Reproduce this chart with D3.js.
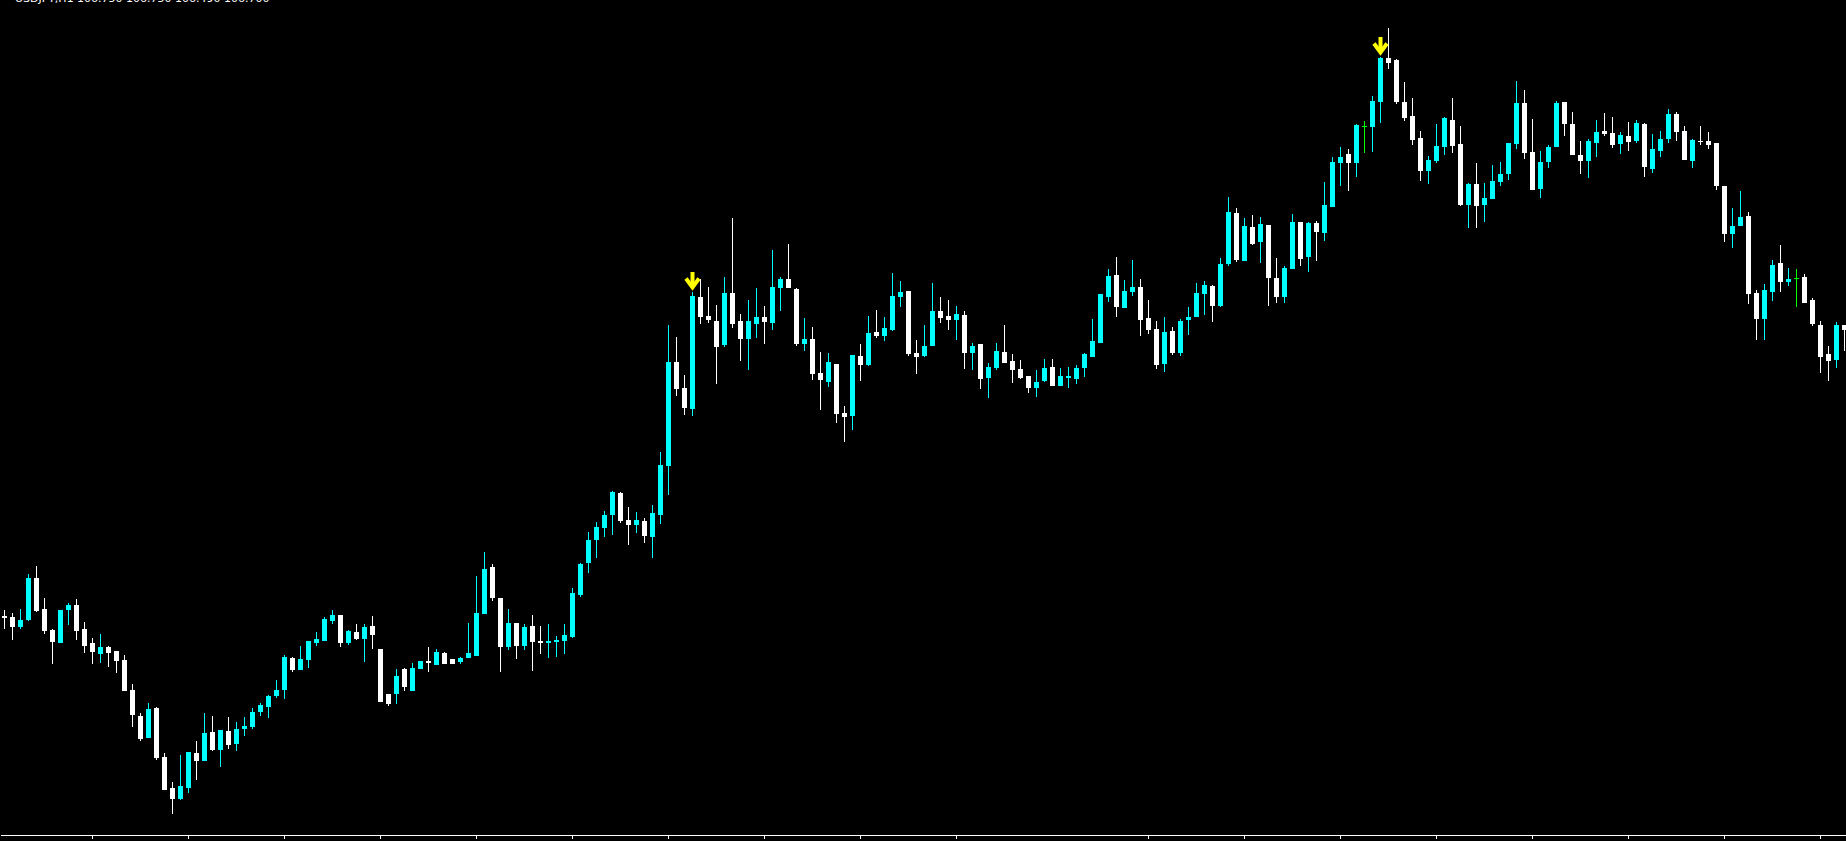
<!DOCTYPE html>
<html>
<head>
<meta charset="utf-8">
<script src="https://cdn.jsdelivr.net/npm/d3@7"></script>
<style>
  html, body { margin: 0; padding: 0; background: #000; overflow: hidden; }
  svg { display: block; }
</style>
</head>
<body>
<div id="chart"></div>
<script>
(function(d3) {
  'use strict';

  var width = 1846;
  var height = 841;

  // H1 bars, oldest first
  var open = [
    103.84,103.83,103.73,103.80,104.22,103.91,103.70,103.57,103.90,103.95,
    103.71,103.57,103.46,103.53,103.49,103.40,103.10,102.84,102.62,102.92,
    102.43,102.12,102.01,102.12,102.47,102.39,102.68,102.50,102.69,102.56,
    102.71,102.73,102.88,102.93,103.04,103.10,103.42,103.30,103.40,103.57,
    103.59,103.79,103.85,103.57,103.68,103.61,103.74,103.51,103.06,103.06,
    103.31,103.09,103.31,103.39,103.35,103.47,103.41,103.38,103.42,103.44,
    103.86,104.33,104.02,103.53,103.77,103.54,103.74,103.59,103.57,103.58,
    103.59,103.63,104.05,104.37,104.60,104.72,104.85,105.07,104.80,104.75,
    104.79,104.63,104.85,105.34,106.38,106.12,105.91,107.03,106.84,106.79,
    106.55,107.07,106.79,106.61,106.76,106.83,106.77,107.12,107.21,107.11,
    106.56,106.61,106.27,106.18,106.36,105.87,105.84,106.44,106.35,106.68,
    106.64,106.70,107.03,107.09,106.47,106.44,106.54,106.89,106.84,106.80,
    106.85,106.47,106.56,106.22,106.32,106.48,106.39,106.31,106.24,106.12,
    106.19,106.33,106.14,106.22,106.21,106.32,106.43,106.57,107.03,107.25,
    106.92,107.08,107.13,106.82,106.71,106.36,106.69,106.47,106.80,106.83,
    107.06,107.14,106.94,107.36,107.87,107.39,107.73,107.58,107.75,107.22,
    107.03,107.31,107.78,107.43,107.77,107.67,107.93,108.37,108.46,108.37,
    108.74,108.73,108.98,109.42,109.40,108.98,108.84,108.62,108.29,108.39,
    108.53,108.80,108.56,107.95,108.16,107.95,108.01,108.18,108.26,108.56,
    108.97,108.48,108.11,108.38,108.53,108.98,108.76,108.45,108.39,108.57,
    108.69,108.67,108.56,108.64,108.59,108.76,108.31,108.49,108.61,108.86,
    108.69,108.39,108.59,108.59,108.57,108.14,107.66,107.74,107.84,107.07,
    106.81,107.08,107.37,107.18,107.22,107.23,107.00,106.75,106.46,106.40,
    106.75
  ];
  var high = [
    103.90,103.87,103.91,104.26,104.34,104.02,103.71,103.90,103.97,104.01,
    103.78,103.62,103.66,103.54,103.49,103.45,103.16,102.87,102.97,102.93,
    102.47,102.18,102.45,102.48,102.59,102.87,102.84,102.70,102.83,102.78,
    102.83,102.92,102.97,103.05,103.20,103.45,103.43,103.54,103.59,103.68,
    103.83,103.90,103.85,103.70,103.76,103.76,103.84,103.51,103.06,103.31,
    103.32,103.37,103.39,103.53,103.51,103.48,103.41,103.43,103.77,104.24,
    104.48,104.36,104.02,103.91,103.77,103.76,103.85,103.74,103.76,103.64,
    103.76,104.12,104.37,104.68,104.78,104.89,105.09,105.08,104.93,104.88,
    104.82,104.95,105.48,106.75,106.63,106.25,107.08,107.21,107.13,106.95,
    107.23,107.82,106.86,107.00,107.12,106.94,107.50,107.23,107.56,107.12,
    106.82,106.73,106.48,106.47,106.36,105.94,106.45,106.56,106.84,106.90,
    106.83,107.27,107.19,107.09,106.60,106.75,107.17,107.03,107.00,106.94,
    106.89,106.57,106.56,106.37,106.57,106.75,106.46,106.40,106.24,106.30,
    106.41,106.41,106.32,106.33,106.35,106.47,106.81,107.06,107.31,107.43,
    107.20,107.40,107.21,107.00,106.79,106.83,106.73,106.81,106.93,107.17,
    107.19,107.15,107.42,108.03,107.92,107.82,107.85,107.83,107.75,107.42,
    107.34,107.86,107.78,107.78,107.79,108.18,108.43,108.53,108.51,108.76,
    108.79,109.04,109.43,109.72,109.41,109.18,109.02,108.69,108.44,108.76,
    108.83,109.02,108.74,108.17,108.37,108.17,108.35,108.38,108.57,109.19,
    109.10,108.81,108.49,108.55,108.99,108.98,108.88,108.59,108.61,108.80,
    108.87,108.83,108.68,108.78,108.80,108.77,108.66,108.69,108.91,108.88,
    108.74,108.61,108.74,108.68,108.57,108.14,107.92,108.09,107.88,107.10,
    107.16,107.40,107.55,107.32,107.31,107.26,107.02,106.79,106.54,106.78,
    106.75
  ];
  var low = [
    103.71,103.60,103.71,103.79,103.88,103.66,103.36,103.57,103.75,103.60,
    103.47,103.36,103.37,103.33,103.27,103.09,102.73,102.59,102.62,102.40,
    102.10,101.86,102.00,102.07,102.20,102.39,102.49,102.33,102.51,102.49,
    102.64,102.71,102.84,102.82,103.02,103.01,103.28,103.30,103.32,103.54,
    103.59,103.76,103.53,103.55,103.60,103.38,103.51,102.98,102.94,102.96,
    103.09,103.09,103.31,103.28,103.35,103.36,103.36,103.36,103.42,103.44,
    103.86,103.99,103.28,103.50,103.41,103.50,103.29,103.46,103.42,103.43,
    103.46,103.62,104.03,104.27,104.42,104.63,104.65,104.77,104.55,104.67,
    104.57,104.42,104.76,105.05,106.04,105.85,105.84,106.76,106.77,106.16,
    106.53,106.72,106.39,106.30,106.62,106.56,106.70,106.89,107.12,106.54,
    106.49,106.20,105.90,106.13,105.77,105.58,105.70,106.19,106.34,106.62,
    106.59,106.69,106.93,106.44,106.26,106.43,106.54,106.77,106.70,106.60,
    106.31,106.30,106.11,106.02,106.30,106.37,106.17,106.21,106.07,106.03,
    106.18,106.14,106.14,106.12,106.16,106.23,106.43,106.57,106.98,106.83,
    106.92,107.04,106.64,106.66,106.31,106.28,106.45,106.44,106.65,106.83,
    106.85,106.78,106.93,107.34,107.38,107.39,107.55,107.37,106.94,106.97,
    106.97,107.31,107.34,107.28,107.39,107.59,107.93,108.14,108.09,108.23,
    108.47,108.48,108.77,109.31,108.96,108.79,108.55,108.19,108.16,108.37,
    108.45,108.47,107.94,107.72,107.72,107.78,108.01,108.14,108.20,108.51,
    108.41,108.10,108.02,108.32,108.53,108.64,108.45,108.26,108.22,108.43,
    108.64,108.52,108.46,108.49,108.57,108.23,108.27,108.43,108.57,108.59,
    108.40,108.32,108.55,108.51,108.10,107.58,107.52,107.74,106.96,106.60,
    106.60,106.99,107.08,107.14,106.93,106.97,106.74,106.27,106.19,106.32,
    106.49
  ];
  var close = [
    103.82,103.73,103.80,104.22,103.89,103.69,103.58,103.90,103.95,103.69,
    103.54,103.48,103.53,103.47,103.39,103.09,102.85,102.61,102.91,102.42,
    102.10,102.01,102.14,102.48,102.39,102.67,102.50,102.70,102.55,102.71,
    102.74,102.88,102.95,103.04,103.10,103.43,103.30,103.41,103.59,103.61,
    103.81,103.85,103.57,103.69,103.61,103.73,103.65,102.98,102.96,103.24,
    103.13,103.32,103.39,103.37,103.48,103.36,103.36,103.42,103.47,103.87,
    104.31,104.02,103.53,103.77,103.54,103.73,103.58,103.57,103.59,103.60,
    103.65,104.07,104.36,104.60,104.73,104.85,105.08,104.79,104.75,104.80,
    104.64,104.87,105.35,106.38,106.11,105.92,107.04,106.83,106.80,106.53,
    107.07,106.76,106.61,106.79,106.83,106.78,107.13,107.21,107.12,106.56,
    106.61,106.26,106.20,106.38,105.86,105.83,106.45,106.35,106.67,106.64,
    106.72,107.04,107.08,106.46,106.43,106.54,106.89,106.82,106.80,106.86,
    106.47,106.54,106.21,106.33,106.49,106.37,106.30,106.22,106.12,106.18,
    106.32,106.14,106.24,106.24,106.32,106.46,106.59,107.06,107.24,106.93,
    107.09,107.13,106.80,106.70,106.35,106.68,106.47,106.79,106.83,107.07,
    107.15,106.94,107.36,107.88,107.40,107.74,107.56,107.76,107.22,107.03,
    107.32,107.78,107.41,107.77,107.68,107.95,108.38,108.43,108.37,108.75,
    108.74,108.99,109.42,109.37,108.98,108.82,108.60,108.29,108.40,108.54,
    108.82,108.54,107.95,108.16,107.94,108.02,108.19,108.26,108.57,108.97,
    108.47,108.10,108.38,108.53,108.97,108.76,108.45,108.39,108.59,108.68,
    108.66,108.55,108.65,108.58,108.77,108.33,108.51,108.61,108.86,108.68,
    108.40,108.60,108.58,108.55,108.14,107.66,107.74,107.83,107.06,106.81,
    107.10,107.35,107.18,107.21,107.22,106.97,106.76,106.43,106.39,106.75,
    106.70
  ];

  // bars carrying a sell arrow above the high
  var arrowBars = [86, 172];
  // bars under which the time axis has a tick
  var tickBars = [11, 23, 35, 47, 59, 71, 83, 95, 107, 119, 143, 155, 167, 179, 191, 203, 215, 227];

  var symbol = 'USDJPY,H1';

  var upColor = '#00ffff';
  var downColor = '#ffffff';
  var dojiColor = '#00ff00';

  var bars = open.map(function(o, i) {
    return { i: i, o: o, h: high[i], l: low[i], c: close[i] };
  });

  var n = bars.length;

  var x = d3.scaleLinear()
    .domain([-0.5, n - 0.5])
    .range([0, n * 8]);

  var y = d3.scaleLinear()
    .domain([101.59, 110.00])
    .range([height, 0]);

  function py(v) { return Math.round(y(v)); }

  function barColor(d) {
    if (d.o === d.c) return dojiColor;
    return d.c > d.o ? upColor : downColor;
  }

  var svg = d3.select('#chart')
    .append('svg')
    .attr('width', width)
    .attr('height', height)
    .style('background', '#000');

  var g = svg.append('g')
    .attr('shape-rendering', 'crispEdges');

  // wicks
  g.selectAll('rect.wick')
    .data(bars)
    .enter()
    .append('rect')
    .attr('class', 'wick')
    .attr('x', function(d) { return Math.round(x(d.i)); })
    .attr('width', 1)
    .attr('y', function(d) { return py(d.h); })
    .attr('height', function(d) { return Math.max(1, py(d.l) - py(d.h)); })
    .attr('fill', barColor);

  // bodies
  g.selectAll('rect.body')
    .data(bars)
    .enter()
    .append('rect')
    .attr('class', 'body')
    .attr('x', function(d) { return Math.round(x(d.i)) - 2; })
    .attr('width', 5)
    .attr('y', function(d) { return py(Math.max(d.o, d.c)); })
    .attr('height', function(d) { return Math.max(1, py(Math.min(d.o, d.c)) - py(Math.max(d.o, d.c))); })
    .attr('fill', barColor);

  // sell arrows
  var arrows = svg.selectAll('g.arrow')
    .data(arrowBars.map(function(i) { return bars[i]; }))
    .enter()
    .append('g')
    .attr('class', 'arrow')
    .attr('transform', function(d) { return 'translate(' + (Math.round(x(d.i)) + 0.5) + ',' + (py(d.h) - 1) + ')'; });

  arrows.append('path')
    .attr('d', 'M0,-19V-5')
    .attr('stroke', '#ffff00')
    .attr('stroke-width', 4)
    .attr('fill', 'none');

  arrows.append('path')
    .attr('d', 'M-6.5,-12.5L0,-3.6L6.5,-12.5')
    .attr('stroke', '#ffff00')
    .attr('stroke-width', 4)
    .attr('stroke-linejoin', 'miter')
    .attr('fill', 'none');

  // time axis, labels fall below the window
  var axis = d3.axisBottom(x)
    .tickValues(tickBars)
    .tickSize(4)
    .tickSizeOuter(0)
    .tickFormat('');

  var ax = svg.append('g')
    .attr('transform', 'translate(0,835)')
    .attr('shape-rendering', 'crispEdges')
    .call(axis);
  ax.select('.domain').attr('stroke', '#fff');
  ax.selectAll('.tick line').attr('stroke', '#fff');

  // header line, mostly clipped at the top edge
  var last = bars[n - 1];
  var f = d3.format('.3f');
  svg.append('text')
    .attr('x', 15)
    .attr('y', 2)
    .attr('fill', '#fff')
    .style('font-family', 'Tahoma, "DejaVu Sans", sans-serif')
    .style('font-size', '11px')
    .text(symbol + '  ' + f(last.o) + ' ' + f(last.h) + ' ' + f(last.l) + ' ' + f(last.c));

})(window.d3);
</script>
</body>
</html>
